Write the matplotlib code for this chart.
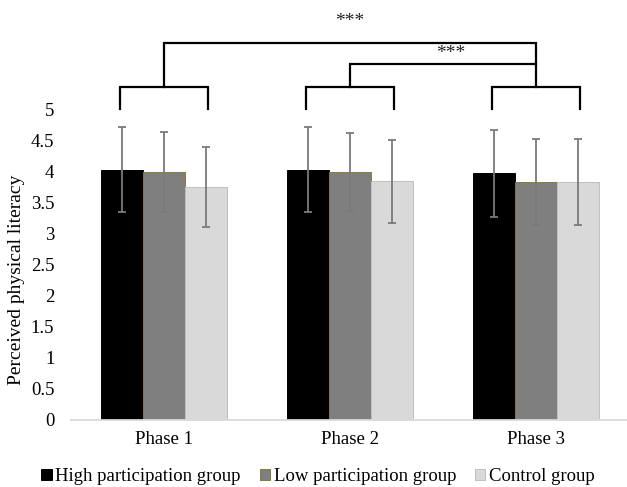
import matplotlib
matplotlib.use("Agg")
import matplotlib.pyplot as plt
import numpy as np
from matplotlib.patches import Patch

plt.rcParams['font.family'] = ['Liberation Serif', 'DejaVu Serif']

phases = ["Phase 1", "Phase 2", "Phase 3"]
groups = ["High participation group", "Low participation group", "Control group"]
high_mean = [4.03, 4.03, 3.97]
high_sd = [0.69, 0.69, 0.70]
low_mean = [3.99, 3.99, 3.83]
low_sd = [0.64, 0.63, 0.70]
ctrl_mean = [3.75, 3.84, 3.83]
ctrl_sd = [0.65, 0.67, 0.69]
yticks = [0, 0.5, 1, 1.5, 2, 2.5, 3, 3.5, 4, 4.5, 5]
ytick_labels = ["0", "0.5", "1", "1.5", "2", "2.5", "3", "3.5", "4", "4.5", "5"]
sig_label = "***"

means = [high_mean, low_mean, ctrl_mean]
sds = [high_sd, low_sd, ctrl_sd]
faces = ["#000000", "#7f7f7f", "#d9d9d9"]
edges = ["#000000", "#8a7a3a", "#bfbfbf"]

W, H = 627, 487
fig = plt.figure(figsize=(W / 100, H / 100), dpi=100)
ax = fig.add_axes([71 / W, 1 - 419.5 / H, 558 / W, 310 / H])

x = np.arange(len(phases))
bw = 0.2258
for i in range(3):
    ax.bar(x + (i - 1) * bw, means[i], width=bw, color=faces[i],
           edgecolor=edges[i], linewidth=0.7, zorder=2)
for i in range(3):
    ax.errorbar(x + (i - 1) * bw, means[i], yerr=sds[i], fmt='none',
                ecolor="#7a7a7a", elinewidth=1.3, capsize=3, capthick=1.3, zorder=3)

ax.set_xlim(-0.5, 2.5)
ax.set_ylim(0, 5)
ax.set_yticks(yticks)
ax.set_yticklabels(ytick_labels)
ax.set_xticks(x)
ax.set_xticklabels(phases)
ax.tick_params(axis='both', length=0, labelsize=13.5)
ax.tick_params(axis='y', pad=12)
ax.tick_params(axis='x', pad=8)
for s in ['top', 'right', 'left']:
    ax.spines[s].set_visible(False)
ax.spines['bottom'].set_color('#d9d9d9')
ax.spines['bottom'].set_linewidth(1.3)

ax.set_ylabel("Perceived physical literacy", fontsize=14)
ax.yaxis.set_label_coords(-0.082, 0.45)

# significance brackets
lw = 1.6
half = 0.235
leg_bottom, leg_top = 5.01, 5.37
for c in x:
    ax.plot([c - half, c - half, c + half, c + half],
            [leg_bottom, leg_top, leg_top, leg_bottom],
            color='black', lw=lw, clip_on=False, solid_joinstyle='miter')
mid_y, top_y = 5.73, 6.08
ax.plot([x[1], x[1], x[2], x[2]], [leg_top, mid_y, mid_y, leg_top],
        color='black', lw=lw, clip_on=False, solid_joinstyle='miter')
ax.plot([x[0], x[0], x[2], x[2]], [leg_top, top_y, top_y, mid_y],
        color='black', lw=lw, clip_on=False, solid_joinstyle='miter')
ax.text(1.0, 6.42, sig_label, ha='center', va='center', fontsize=14, clip_on=False,
        color='#222222')
ax.text(1.54, 5.91, sig_label, ha='center', va='center', fontsize=14, clip_on=False,
        color='#222222')

handles = [Patch(facecolor=faces[i], edgecolor=edges[i], linewidth=0.7) for i in range(3)]
fig.legend(handles, groups, loc='center', bbox_to_anchor=(318 / W, 1 - 476.7 / H),
           ncol=3, frameon=False, fontsize=13.5, handlelength=0.55, handleheight=0.55,
           handletextpad=0.2, columnspacing=1.0, borderpad=0)

fig.savefig("out.png", dpi=100)
